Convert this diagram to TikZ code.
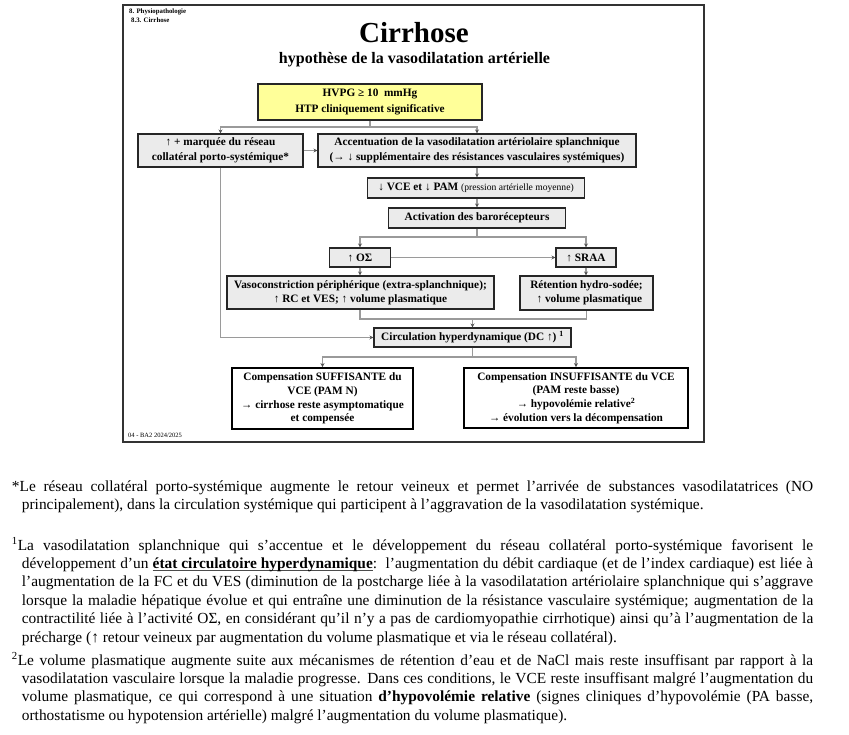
\documentclass[tikz,border=0pt]{standalone}
\usepackage{fontspec}
\setmainfont{Liberation Serif}
\usetikzlibrary{arrows.meta}
\definecolor{boxgray}{HTML}{EBEBEB}
\definecolor{boxyellow}{HTML}{FFFF99}
\definecolor{linegray}{HTML}{9A9A9A}
\definecolor{tipgray}{HTML}{505050}
\definecolor{framegray}{HTML}{333333}
\tikzset{
  gbox/.style={draw=black!85, line width=1.1pt, fill=boxgray, inner sep=0pt, align=center,
    font=\bfseries\fontsize{11.3}{14.5}\selectfont},
  ybox/.style={gbox, fill=boxyellow, font=\bfseries\fontsize{11.3}{16.5}\selectfont},
  wbox/.style={gbox, fill=white, draw=black, line width=1.8pt,
    font=\bfseries\fontsize{11.3}{13.7}\selectfont},
  conn/.style={draw=linegray, line width=1.1pt},
  arr/.style={conn, -{Stealth[length=4pt,width=4pt,color=tipgray]}},
  paranode/.style={anchor=base west, inner sep=0pt},
}
\newcommand{\paratext}[1]{\parbox[t]{801.3pt}{\fontsize{15.4}{18.4}\selectfont\hangindent=10pt\hangafter=1 #1}}
\newsavebox{\ulbox}
\newcommand{\ulbold}[1]{\sbox{\ulbox}{#1}\rlap{\color{black!70}\rule[-2.2pt]{\wd\ulbox}{0.9pt}}\usebox{\ulbox}}
\begin{document}
\begin{tikzpicture}[x=1pt,y=-1pt]
\fill[white] (0,0) rectangle (849,734);
\useasboundingbox (0,0) rectangle (849,734);
% frame
\draw[framegray, line width=1.5pt] (123,5) rectangle (704,442);
\node[anchor=base west, inner sep=0pt, font=\bfseries\fontsize{6.8}{8}\selectfont] (h1) at (129,13.5) {8. Physiopathologie};
\node[anchor=base west, inner sep=0pt, font=\bfseries\fontsize{6.8}{8}\selectfont] (h2) at (131,22.5) {8.3. Cirrhose};
\node[anchor=base, inner sep=0pt, font=\bfseries\fontsize{29}{32}\selectfont] (title) at (414,42.5) {Cirrhose};
\node[anchor=base, inner sep=0pt, font=\bfseries\fontsize{16}{18}\selectfont] (sub) at (414.5,63) {hypothèse de la vasodilatation artérielle};
\node[anchor=base west, inner sep=0pt, font=\fontsize{6.5}{8}\selectfont] (foot) at (128,437) {04 - BA2 2024/2025};

% boxes
\node[ybox, minimum width=224pt, minimum height=36pt] (hvpg) at (370,102) {HVPG ≥ 10\ \ mmHg\\HTP cliniquement significative};
\node[gbox, minimum width=165pt, minimum height=33pt] (res) at (220.5,150.5) {↑ + marquée du réseau\\collatéral porto-systémique*};
\node[gbox, minimum width=318pt, minimum height=33pt] (acc) at (477,150.5) {Accentuation de la vasodilatation artériolaire splanchnique\\(→ ↓ supplémentaire des résistances vasculaires systémiques)};
\node[gbox, minimum width=217pt, minimum height=20pt] (vce) at (476,188) {↓ VCE et ↓ PAM {\mdseries\fontsize{9.6}{11}\selectfont (pression artérielle moyenne)}};
\node[gbox, minimum width=177pt, minimum height=20pt] (act) at (477,218) {Activation des barorécepteurs};
\node[gbox, minimum width=61pt, minimum height=19pt] (os) at (360,257.5) {↑ OΣ};
\node[gbox, minimum width=60pt, minimum height=19pt] (sraa) at (586,257.5) {↑ SRAA};
\node[gbox, minimum width=267pt, minimum height=33pt, font=\bfseries\fontsize{11.3}{14}\selectfont] (vaso) at (360.5,292.5) {Vasoconstriction périphérique (extra-splanchnique);\\↑ RC et VES; ↑ volume plasmatique};
\node[gbox, minimum width=133pt, minimum height=34pt, font=\bfseries\fontsize{11.3}{14}\selectfont] (ret) at (586.5,293) {Rétention hydro-sodée;\\\ \ ↑ volume plasmatique};
\node[gbox, minimum width=197pt, minimum height=19pt] (circ) at (472.5,337.5) {Circulation hyperdynamique (DC ↑) \textsuperscript{1}};
\node[wbox, minimum width=181pt, minimum height=61pt] (suf) at (322.5,398.5) {Compensation SUFFISANTE du\\VCE (PAM N)\\→ cirrhose reste asymptomatique\\et compensée};
\node[wbox, minimum width=224pt, minimum height=60pt] (ins) at (576,398) {Compensation INSUFFISANTE du VCE\\(PAM reste basse)\\→ hypovolémie relative\textsuperscript{2}\\→ évolution vers la décompensation};

% junctions
\coordinate (j1) at (370,127);
\coordinate (j2) at (477,237);
\coordinate (j3) at (472.5,319);
\coordinate (j4) at (472.5,357);

% connectors
\draw[conn] (hvpg.south) -- (j1);
\draw[arr] (j1) -| (res.north);
\draw[arr] (j1) -| (acc.north);
\draw[arr] (res.east) -- (acc.west);
\draw[arr] (acc.south) -- (acc.south |- vce.north);
\draw[arr] (vce.south -| act.north) -- (act.north);
\draw[conn] (act.south) -- (j2);
\draw[arr] (j2) -| (os.north);
\draw[arr] (j2) -| (sraa.north);
\draw[arr] (os.east) -- (sraa.west);
\draw[arr] (os.south) -- (os.south |- vaso.north);
\draw[arr] (sraa.south) -- (sraa.south |- ret.north);
\draw[conn] (vaso.south -| os.south) |- (j3) -| (ret.south);
\draw[arr] (j3) -- (circ.north);
\draw[arr] (res.south) |- (circ.west);
\draw[conn] (circ.south) -- (j4);
\draw[arr] (j4) -| (suf.north);
\draw[arr] (j4) -| (ins.north);

% notes
\node[paranode] (p1) at (11.7,491.5) {\paratext{*Le réseau collatéral porto-systémique augmente le retour veineux et permet l’arrivée de substances vasodilatatrices (NO\linebreak principalement), dans la circulation systémique qui participent à l’aggravation de la vasodilatation systémique.}};
\node[paranode] (p2) at (11.7,550) {\paratext{\textsuperscript{1}La vasodilatation splanchnique qui s’accentue et le développement du réseau collatéral porto-systémique favorisent le\linebreak développement d’un \ulbold{\textbf{état circulatoire hyperdynamique}}:\ \ l’augmentation du débit cardiaque (et de l’index cardiaque) est liée à\linebreak l’augmentation de la FC et du VES (diminution de la postcharge liée à la vasodilatation artériolaire splanchnique qui s’aggrave\linebreak lorsque la maladie hépatique évolue et qui entraîne une diminution de la résistance vasculaire systémique; augmentation de la\linebreak contractilité liée à l’activité OΣ, en considérant qu’il n’y a pas de cardiomyopathie cirrhotique) ainsi qu’à l’augmentation de la\linebreak précharge (↑ retour veineux par augmentation du volume plasmatique et via le réseau collatéral).}};
\node[paranode] (p3) at (11.7,665) {\paratext{\textsuperscript{2}Le volume plasmatique augmente suite aux mécanismes de rétention d’eau et de NaCl mais reste insuffisant par rapport à la\linebreak vasodilatation vasculaire lorsque la maladie progresse. Dans ces conditions, le VCE reste insuffisant malgré l’augmentation du\linebreak volume plasmatique, ce qui correspond à une situation \textbf{d’hypovolémie relative} (signes cliniques d’hypovolémie (PA basse,\linebreak orthostatisme ou hypotension artérielle) malgré l’augmentation du volume plasmatique).}};
\end{tikzpicture}
\end{document}
